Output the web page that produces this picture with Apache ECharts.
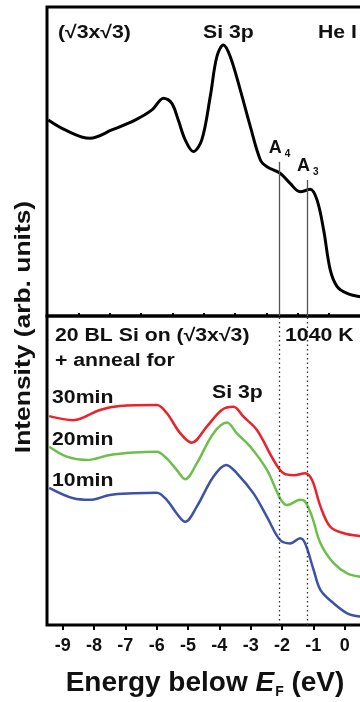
<!DOCTYPE html>
<html>
<head>
<meta charset="utf-8">
<script src="https://cdn.jsdelivr.net/npm/echarts@6/dist/echarts.min.js"></script>
<style>
  html, body { margin: 0; padding: 0; background: #fff; overflow: hidden; }
  #chart { width: 400px; height: 702px; }
</style>
</head>
<body>
<div id="chart"></div>
<script>
// He I spectrum of the (√3x√3) surface (top panel)
const heIEnergy = [-9.46, -8.92, -8.13, -7.43, -6.69, -6.15, -5.78, -5.52, -5.31, -5.09, -4.83, -4.56, -4.29, -4.08, -3.87, -3.65, -3.33, -3.01, -2.69, -2.48, -2.06, -1.74, -1.42, -1.10, -0.88, -0.67, -0.46, -0.24, 0.08, 0.5, 1.0];
const heIIntensity = [63.4, 60.2, 57.5, 60.2, 63.4, 66.7, 70.5, 68.9, 63.4, 57.0, 53.2, 57.0, 71.0, 83.9, 87.7, 83.9, 73.1, 61.3, 50.5, 48.3, 46.2, 42.9, 40.2, 41.0, 37.5, 27.8, 14.9, 9.5, 7.3, 6.2, 5.8];

// annealed at 1040 K (bottom panel)
const anneal30Energy = [-9.43, -8.66, -7.81, -7.17, -6.00, -5.68, -5.25, -4.88, -4.40, -3.92, -3.55, -3.23, -2.80, -2.27, -1.95, -1.63, -1.26, -1.04, -0.77, -0.46, -0.03, 0.5, 1.0];
const anneal30Intensity = [67.6, 66.3, 69.6, 70.9, 71.2, 68.6, 62.1, 59.0, 64.2, 69.6, 70.6, 67.4, 63.1, 53.4, 49.1, 48.5, 49.1, 46.9, 38.3, 31.8, 29.7, 28.8, 28.5];
const anneal20Energy = [-9.43, -8.87, -8.23, -7.49, -6.74, -6.00, -5.68, -5.36, -5.09, -4.72, -4.19, -3.76, -3.44, -3.01, -2.48, -2.06, -1.84, -1.42, -1.26, -1.04, -0.77, -0.35, 0.08, 0.5, 1.0];
const anneal20Intensity = [57.7, 54.5, 53.4, 55.0, 55.8, 56.1, 53.9, 50.2, 47.2, 52.3, 62.0, 65.5, 62.0, 57.7, 50.2, 41.0, 38.8, 40.5, 39.9, 35.0, 26.4, 20.0, 16.7, 15.6, 15.2];
const anneal10Energy = [-9.43, -8.66, -8.13, -7.49, -6.74, -6.00, -5.68, -5.36, -5.09, -4.72, -4.19, -3.78, -3.44, -2.91, -2.48, -2.06, -1.74, -1.42, -1.26, -0.99, -0.77, -0.35, 0.08, 0.5, 1.0];
const anneal10Intensity = [44.4, 41.0, 40.5, 42.1, 42.6, 42.8, 40.5, 36.1, 33.4, 38.3, 48.0, 51.8, 49.1, 42.6, 35.0, 27.5, 26.4, 28.1, 26.4, 17.8, 11.3, 7.0, 3.8, 2.7, 2.4];

// surface state positions A4, A3
const peakNames = ['4', '3'];
const peakEnergy = [-2.08, -1.18];
const peakTop = [49.9, 44.0];

const majorTicks = [-9, -8, -7, -6, -5, -4, -3, -2, -1, 0, 1];
const tickLabels = [-9, -8, -7, -6, -5, -4, -3, -2, -1, 0];
const minorTicks = [-9.5, -8.5, -7.5, -6.5, -5.5, -4.5, -3.5, -2.5, -1.5, -0.5, 0.5];

const FONT = '"Liberation Sans", Arial, sans-serif';
const xMin = -9.5;
const xMax = 1.0;

const pairs = (xs, ys) => xs.map((x, i) => [x, ys[i]]);

const chart = echarts.init(document.getElementById('chart'));

// panel annotation, left aligned, y is the middle of the capitals
const note = (text, x, y) => ({
  type: 'text',
  x,
  y,
  scaleX: 1.18,
  style: { text, font: `bold 18px ${FONT}`, fill: '#111', align: 'left', verticalAlign: 'middle' }
});

const peakLines = peakEnergy.map((x, i) => [
  {
    coord: [x, peakTop[i]],
    label: {
      show: true,
      position: 'start',
      distance: 3,
      formatter: `{a|A}{s|${peakNames[i]}}`,
      rich: {
        a: { fontSize: 18, fontWeight: 'bold', fontFamily: FONT, color: '#111' },
        s: { fontSize: 10, fontWeight: 'bold', fontFamily: FONT, color: '#111', padding: [12, 0, 0, 3] }
      }
    }
  },
  { coord: [x, 0] }
]);

const option = {
  animation: false,
  grid: [
    { left: 47, top: 7, width: 329, height: 309, show: true, borderColor: '#000', borderWidth: 3 },
    { left: 47, top: 316, width: 329, height: 309, show: true, borderColor: '#000', borderWidth: 3 }
  ],
  xAxis: [
    { type: 'value', gridIndex: 0, min: xMin, max: xMax, show: false },
    {
      type: 'value',
      gridIndex: 1,
      min: xMin,
      max: xMax,
      axisLine: { show: false },
      splitLine: { show: false },
      axisTick: { show: true, customValues: majorTicks, length: 5, lineStyle: { color: '#000', width: 2 } },
      axisLabel: {
        customValues: tickLabels,
        color: '#111',
        fontFamily: FONT,
        fontWeight: 'bold',
        fontSize: 18,
        margin: 12
      }
    },
    {
      type: 'value',
      gridIndex: 1,
      min: xMin,
      max: xMax,
      axisLine: { show: false },
      splitLine: { show: false },
      axisLabel: { show: false },
      axisTick: { show: true, customValues: minorTicks, length: 3, lineStyle: { color: '#000', width: 2 } }
    }
  ],
  yAxis: [
    { type: 'value', gridIndex: 0, min: 0, max: 100, show: false },
    { type: 'value', gridIndex: 1, min: 0, max: 100, show: false }
  ],
  series: [
    {
      type: 'line',
      xAxisIndex: 0,
      yAxisIndex: 0,
      data: pairs(heIEnergy, heIIntensity),
      smooth: 0.35,
      showSymbol: false,
      lineStyle: { color: '#000', width: 3 },
      markLine: {
        silent: true,
        symbol: 'none',
        lineStyle: { color: '#555', width: 1.3, type: 'solid' },
        data: peakLines
      },
      z: 3
    },
    {
      type: 'line',
      name: '30min',
      xAxisIndex: 1,
      yAxisIndex: 1,
      data: pairs(anneal30Energy, anneal30Intensity),
      smooth: 0.35,
      showSymbol: false,
      lineStyle: { color: '#e8232b', width: 2.5 },
      markLine: {
        silent: true,
        symbol: 'none',
        label: { show: false },
        lineStyle: { color: '#333', width: 1.3, type: [1.5, 3] },
        data: peakEnergy.map(x => [{ coord: [x, 0] }, { coord: [x, 100] }])
      }
    },
    {
      type: 'line',
      name: '20min',
      xAxisIndex: 1,
      yAxisIndex: 1,
      data: pairs(anneal20Energy, anneal20Intensity),
      smooth: 0.35,
      showSymbol: false,
      lineStyle: { color: '#6cc04a', width: 2.5 }
    },
    {
      type: 'line',
      name: '10min',
      xAxisIndex: 1,
      yAxisIndex: 1,
      data: pairs(anneal10Energy, anneal10Intensity),
      smooth: 0.35,
      showSymbol: false,
      lineStyle: { color: '#3c52a6', width: 2.5 }
    }
  ],
  graphic: [
    note('(√3x√3)', 58, 33),
    note('Si 3p', 203, 33),
    note('He I', 318, 33),
    note('20 BL Si on (√3x√3)', 55, 336),
    note('+ anneal for', 55, 361),
    note('1040 K', 285, 336),
    note('30min', 52, 398),
    note('Si 3p', 212, 393),
    note('20min', 52, 440),
    note('10min', 52, 481),
    {
      type: 'text',
      x: 24,
      y: 327,
      rotation: Math.PI / 2,
      scaleX: 1.2,
      style: {
        text: 'Intensity (arb. units)',
        font: `bold 22px ${FONT}`,
        fill: '#111',
        align: 'center',
        verticalAlign: 'middle'
      }
    },
    {
      type: 'text',
      x: 205,
      y: 683,
      style: {
        text: '{n|Energy below }{i|E}{s|F}{n| (eV)}',
        align: 'center',
        verticalAlign: 'middle',
        rich: {
          n: { font: `bold 28px ${FONT}`, fill: '#111' },
          i: { font: `italic bold 28px ${FONT}`, fill: '#111' },
          s: { font: `bold 14px ${FONT}`, fill: '#111', padding: [18, 0, 0, 1] }
        }
      }
    }
  ]
};

chart.setOption(option);
</script>
</body>
</html>
